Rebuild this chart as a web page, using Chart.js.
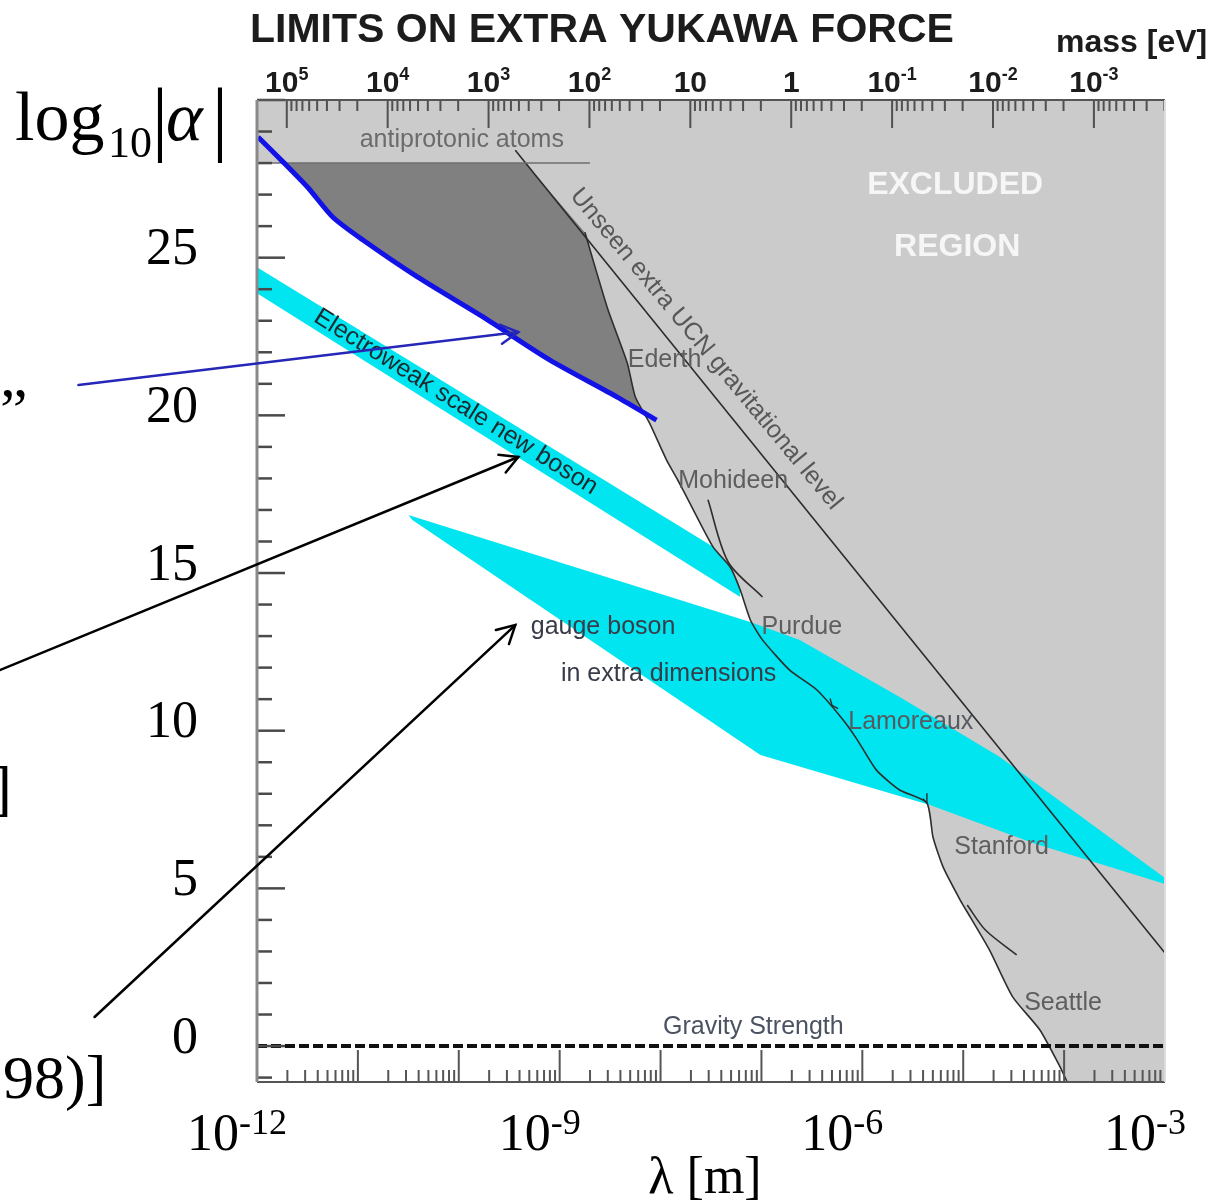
<!DOCTYPE html>
<html>
<head>
<meta charset="utf-8">
<script src="https://cdn.jsdelivr.net/npm/chart.js@4.4.1/dist/chart.umd.min.js"></script>
<style>
  html, body { margin: 0; padding: 0; background: #ffffff; }
  canvas { display: block; }
</style>
</head>
<body>
<canvas id="chart" width="1223" height="1202"></canvas>
<script>
// Axes: x = log10(lambda / m), y = log10|alpha|
const HBARC_EV_M = 1.97327e-7;               // hbar*c in eV*m, links mass to range
const lambdaLabelExponents = [-12, -9, -6, -3];
const massLabelExponents = [5, 4, 3, 2, 1, 0, -1, -2, -3];
const alphaTickLabels = [0, 5, 10, 15, 20, 25];

// Lower-left edge of the excluded region (filled up to the top of the plot)
const excludedEdge = [
  [-12, 28.0], [-9.34, 28.0], [-8.75, 25.81], [-8.67, 24.93], [-8.52, 23.34],
  [-8.33, 21.66], [-8.25, 20.58], [-8.11, 19.76], [-7.94, 18.58], [-7.83, 17.95],
  [-7.71, 17.22], [-7.48, 15.83], [-7.31, 15.19], [-7.21, 14.46], [-7.11, 13.51],
  [-6.99, 12.88], [-6.72, 11.92], [-6.45, 11.29], [-6.19, 10.34], [-6.05, 9.71],
  [-5.86, 8.75], [-5.63, 8.12], [-5.36, 7.71], [-5.30, 6.63], [-5.20, 5.68],
  [-5.03, 4.63], [-4.93, 4.09], [-4.74, 3.05], [-4.51, 1.56], [-4.24, 0.51],
  [-4.04, -0.66], [-3.97, -1.14], [-3, -1.14]
];

// Experimental limit curve (Ederth, Mohideen, Purdue, Lamoreaux, Stanford, Seattle)
const limitCurve = [
  [-8.75, 25.81], [-8.67, 24.93], [-8.52, 23.34], [-8.33, 21.66], [-8.25, 20.58],
  [-8.11, 19.76], [-7.94, 18.58], [-7.83, 17.95], [-7.71, 17.22], [-7.48, 15.83],
  [-7.31, 15.19], [-7.21, 14.46], [-7.11, 13.51], [-6.99, 12.88], [-6.72, 11.92],
  [-6.45, 11.29], [-6.19, 10.34], [-6.05, 9.71], [-5.86, 8.75], [-5.63, 8.12],
  [-5.36, 7.71], [-5.30, 6.63], [-5.20, 5.68], [-5.03, 4.63], [-4.93, 4.09],
  [-4.74, 3.05], [-4.51, 1.56], [-4.24, 0.51], [-4.04, -0.66], [-3.97, -1.14]
];
const mohideenBranch = [[-7.53, 17.32], [-7.33, 15.35], [-6.99, 14.24]];
const seattleBranch = [[-4.96, 4.47], [-4.78, 3.68], [-4.47, 2.89]];
const lamoreauxMark = [[-6.32, 11.02], [-6.30, 10.80], [-6.24, 10.70]];
const stanfordMark = [[-5.36, 8.02], [-5.36, 7.71], [-5.40, 7.84]];

// Upper edge of the dark-grey wedge (antiprotonic atoms / UCN / Ederth)
const wedgeTop = [
  [-11.73, 28.0], [-9.34, 28.0], [-8.75, 25.81], [-8.67, 24.93], [-8.52, 23.34],
  [-8.33, 21.66], [-8.25, 20.58], [-8.19, 20.14]
];

// Blue bound
const blueBound = [
  [-11.99, 28.83], [-11.74, 28.03], [-11.50, 27.24], [-11.25, 26.29], [-10.95, 25.56],
  [-10.41, 24.39], [-9.76, 23.12], [-9.10, 21.76], [-8.43, 20.58], [-8.04, 19.85]
];

// Electroweak scale new boson band
const electroweakUpper = [[-12, 24.70], [-7.48, 15.83], [-7.31, 15.19], [-7.21, 14.46]];
const electroweakLower = [[-12, 23.87], [-7.21, 14.24]];

// Gauge boson in extra dimensions band
const gaugeUpper = [[-10.50, 16.84], [-7.11, 13.45], [-6.62, 12.88], [-5.63, 11.07], [-4.64, 9.17], [-3, 5.33]];
const gaugeLower = [[-10.50, 16.84], [-10.46, 16.68], [-7.01, 9.23], [-5.33, 7.64], [-4.31, 6.44], [-3, 5.14]];

const antiprotonicLine = [[-12, 28.0], [-8.70, 28.0]];
const ucnLine = [[-9.44, 28.41], [-3, 2.95]];
const gravityLine = [[-12, 0], [-3, 0]];

const toPts = arr => arr.map(([x, y]) => ({ x, y }));
const CLEAR = 'rgba(0,0,0,0)';
const CYAN = '#00e5ef';
const CURVE = '#2e2e2e';

const datasets = [
  { label: 'excluded', data: toPts(excludedEdge), fill: 'end', backgroundColor: '#cbcbcb',
    borderColor: CLEAR, borderWidth: 0, order: 10 },
  { label: 'wedge', data: toPts(wedgeTop), fill: 2, backgroundColor: '#808080',
    borderColor: CLEAR, borderWidth: 0, order: 9 },
  { label: 'blue bound', data: toPts(blueBound), fill: false, borderColor: '#1212e6',
    borderWidth: 5, tension: 0.25, order: 2 },
  { label: 'electroweak', data: toPts(electroweakUpper), fill: 4, backgroundColor: CYAN,
    borderColor: CLEAR, borderWidth: 0, order: 8 },
  { label: 'electroweak lower', data: toPts(electroweakLower), fill: false,
    borderColor: CLEAR, borderWidth: 0, order: 8 },
  { label: 'gauge', data: toPts(gaugeUpper), fill: 6, backgroundColor: CYAN,
    borderColor: CLEAR, borderWidth: 0, order: 7 },
  { label: 'gauge lower', data: toPts(gaugeLower), fill: false,
    borderColor: CLEAR, borderWidth: 0, order: 7 },
  { label: 'antiprotonic', data: toPts(antiprotonicLine), fill: false, borderColor: '#6e6e6e',
    borderWidth: 1.6, order: 5 },
  { label: 'UCN', data: toPts(ucnLine), fill: false, borderColor: '#2b2b2b',
    borderWidth: 1.6, order: 5 },
  { label: 'limits', data: toPts(limitCurve), fill: false, borderColor: CURVE,
    borderWidth: 1.6, tension: 0.2, order: 5 },
  { label: 'Mohideen', data: toPts(mohideenBranch), fill: false, borderColor: CURVE,
    borderWidth: 1.6, tension: 0.3, order: 5 },
  { label: 'Seattle', data: toPts(seattleBranch), fill: false, borderColor: CURVE,
    borderWidth: 1.6, tension: 0.3, order: 5 },
  { label: 'Lamoreaux mark', data: toPts(lamoreauxMark), fill: false, borderColor: CURVE,
    borderWidth: 1.4, order: 5 },
  { label: 'Stanford mark', data: toPts(stanfordMark), fill: false, borderColor: CURVE,
    borderWidth: 1.4, order: 5 },
  { label: 'gravity', data: toPts(gravityLine), fill: false, borderColor: '#111111',
    borderWidth: 4, borderDash: [10, 4], order: 4 }
];
datasets.forEach(d => { d.pointRadius = 0; d.showLine = true; if (d.tension === undefined) d.tension = 0; });

// Labels written inside the plot, placed in data coordinates
const plotLabels = [
  { text: 'antiprotonic atoms', x: -9.97, y: 28.73, color: '#6b6b6b' },
  { text: 'Ederth', x: -7.96, y: 21.76, color: '#5e5e5e' },
  { text: 'Mohideen', x: -7.28, y: 17.92, color: '#5e5e5e' },
  { text: 'Purdue', x: -6.60, y: 13.29, color: '#5e5e5e' },
  { text: 'Lamoreaux', x: -5.52, y: 10.28, color: '#555b60' },
  { text: 'Stanford', x: -4.62, y: 6.31, color: '#5e5e5e' },
  { text: 'Seattle', x: -4.01, y: 1.37, color: '#5e5e5e' },
  { text: 'Gravity Strength', x: -7.08, y: 0.60, color: '#4b5362' },
  { text: 'gauge boson', x: -8.57, y: 13.29, color: '#383c48' },
  { text: 'in extra dimensions', x: -7.92, y: 11.80, color: '#383c48' },
  { text: 'Electroweak scale new boson', x: -10.03, y: 20.42, angle: 32, color: '#1e2a30' },
  { text: 'Unseen extra UCN gravitational level', x: -7.55, y: 22.10, angle: 50.2, color: '#585858' },
  { text: 'EXCLUDED', x: -5.08, y: 27.30, color: '#f6f6f6', bold: true },
  { text: 'REGION', x: -5.06, y: 25.34, color: '#f6f6f6', bold: true }
];

// Pointer arrows, tail -> head, in data coordinates
const arrows = [
  { from: [-13.77, 20.96], to: [-9.41, 22.64], color: '#2626b8' },
  { from: [-14.55, 11.92], to: [-9.41, 18.68], color: '#000000' },
  { from: [-13.61, 0.92], to: [-9.44, 13.35], color: '#000000' }
];

const SANS = '"Liberation Sans", Arial, sans-serif';
const SERIF = '"Liberation Serif", "Times New Roman", serif';

function drawPow(ctx, base, exp, cx, baseline, baseFont, expFont, rise) {
  ctx.font = baseFont;
  const wb = ctx.measureText(base).width;
  let we = 0;
  if (exp) { ctx.font = expFont; we = ctx.measureText(exp).width; }
  const x0 = cx - (wb + we) / 2;
  ctx.textAlign = 'left';
  ctx.textBaseline = 'alphabetic';
  ctx.font = baseFont;
  ctx.fillText(base, x0, baseline);
  if (exp) { ctx.font = expFont; ctx.fillText(exp, x0 + wb, baseline - rise); }
}

function seg(ctx, x1, y1, x2, y2) {
  ctx.beginPath(); ctx.moveTo(x1, y1); ctx.lineTo(x2, y2); ctx.stroke();
}

const frameAndText = {
  id: 'frameAndText',
  afterDatasetsDraw(chart) {
    const ctx = chart.ctx, a = chart.chartArea;
    const xs = chart.scales.x, ys = chart.scales.y;
    ctx.save();
    ctx.lineCap = 'butt';

    // left axis ticks, every unit, long every 5
    ctx.strokeStyle = '#4a4a4a'; ctx.lineWidth = 2.5;
    for (let v = Math.ceil(ys.min); v <= Math.floor(ys.max); v++) {
      const y = ys.getPixelForValue(v);
      seg(ctx, a.left, y, a.left + (v % 5 === 0 ? 28 : 15), y);
    }

    // bottom axis: decades of lambda with 2..9 subdivisions
    ctx.strokeStyle = '#555555'; ctx.lineWidth = 2;
    for (let k = Math.floor(xs.min); k <= Math.ceil(xs.max); k++) {
      for (let j = 1; j <= 9; j++) {
        const v = k + Math.log10(j);
        if (v < xs.min - 1e-9 || v > xs.max + 1e-9) continue;
        const x = xs.getPixelForValue(v);
        seg(ctx, x, a.bottom, x, a.bottom - (j === 1 ? 32 : 12));
      }
    }

    // top axis: mass in eV
    ctx.strokeStyle = '#505050'; ctx.lineWidth = 2;
    for (let k = -5; k <= 6; k++) {
      for (let j = 1; j <= 9; j++) {
        const v = Math.log10(HBARC_EV_M / (j * Math.pow(10, k)));
        if (v < xs.min || v > xs.max) continue;
        const x = xs.getPixelForValue(v);
        seg(ctx, x, a.top, x, a.top + (j === 1 ? 28 : 11));
      }
    }

    // plot frame
    ctx.strokeStyle = '#555555'; ctx.lineWidth = 2;
    seg(ctx, a.left, a.top, a.right, a.top);
    seg(ctx, a.left, a.bottom, a.right, a.bottom);
    ctx.strokeStyle = '#dddddd'; ctx.lineWidth = 2;
    seg(ctx, a.right, a.top, a.right, a.bottom);
    ctx.strokeStyle = '#8a8a8a'; ctx.lineWidth = 3;
    seg(ctx, a.left, a.top, a.left, a.bottom);

    // labels inside the plot
    for (const L of plotLabels) {
      const px = xs.getPixelForValue(L.x), py = ys.getPixelForValue(L.y);
      ctx.save();
      ctx.translate(px, py);
      if (L.angle) ctx.rotate(L.angle * Math.PI / 180);
      ctx.font = (L.bold ? 'bold 32px ' : '25px ') + SANS;
      ctx.fillStyle = L.color;
      ctx.textAlign = 'center';
      ctx.textBaseline = 'middle';
      ctx.fillText(L.text, 0, 0);
      ctx.restore();
    }
    ctx.restore();
  },
  afterDraw(chart) {
    const ctx = chart.ctx, a = chart.chartArea;
    const xs = chart.scales.x, ys = chart.scales.y;
    ctx.save();

    // title and mass axis
    ctx.fillStyle = '#1c1c1c';
    ctx.font = 'bold 41px ' + SANS;
    ctx.textAlign = 'left'; ctx.textBaseline = 'alphabetic';
    ctx.fillText('LIMITS ON EXTRA YUKAWA FORCE', 250, 42);
    ctx.font = 'bold 32px ' + SANS;
    ctx.fillText('mass [eV]', 1056, 52);
    for (const k of massLabelExponents) {
      const x = xs.getPixelForValue(Math.log10(HBARC_EV_M / Math.pow(10, k)));
      const base = k === 0 ? '1' : '10';
      const exp = (k === 0 || k === 1) ? '' : String(k);
      drawPow(ctx, base, exp, x, 92, 'bold 30px ' + SANS, 'bold 18px ' + SANS, 12);
    }

    // lambda axis labels
    ctx.fillStyle = '#000000';
    for (const e of lambdaLabelExponents) {
      const x = xs.getPixelForValue(e) - 20;
      drawPow(ctx, '10', String(e), x, 1150, '52px ' + SERIF, '36px ' + SERIF, 16);
    }
    ctx.font = '52px ' + SERIF;
    ctx.textAlign = 'center';
    ctx.fillText('\u03bb [m]', 705, 1193);

    // y-axis quantity
    ctx.textAlign = 'left';
    ctx.font = '70px ' + SERIF;
    ctx.fillText('log', 15, 140);
    ctx.font = '44px ' + SERIF;
    ctx.fillText('10', 108, 157);
    ctx.font = 'italic 70px ' + SERIF;
    ctx.fillText('\u03b1', 166, 140);
    ctx.font = '82px ' + SERIF;
    ctx.textAlign = 'center';
    ctx.fillText('|', 160, 145);
    ctx.fillText('|', 220, 145);

    // fragments of the surrounding slide text
    ctx.font = '62px ' + SERIF;
    ctx.textAlign = 'left';
    ctx.fillText('\u201d', 0, 430);
    ctx.textAlign = 'right';
    ctx.fillText(']', 12, 809);
    ctx.textAlign = 'left';
    ctx.fillText('98)]', 3, 1098);

    // arrows
    for (const A of arrows) {
      const x1 = xs.getPixelForValue(A.from[0]), y1 = ys.getPixelForValue(A.from[1]);
      const x2 = xs.getPixelForValue(A.to[0]), y2 = ys.getPixelForValue(A.to[1]);
      ctx.strokeStyle = A.color; ctx.lineWidth = 2.5; ctx.lineCap = 'round';
      seg(ctx, x1, y1, x2, y2);
      const ang = Math.atan2(y2 - y1, x2 - x1), h = 20, spread = 0.5;
      ctx.beginPath();
      ctx.moveTo(x2 - h * Math.cos(ang - spread), y2 - h * Math.sin(ang - spread));
      ctx.lineTo(x2, y2);
      ctx.lineTo(x2 - h * Math.cos(ang + spread), y2 - h * Math.sin(ang + spread));
      ctx.stroke();
    }
    ctx.restore();
  }
};

new Chart(document.getElementById('chart'), {
  type: 'line',
  data: { datasets },
  options: {
    responsive: false,
    animation: false,
    devicePixelRatio: 1,
    events: [],
    layout: { padding: { left: 0, top: 100, right: 58, bottom: 120 } },
    plugins: { legend: { display: false }, tooltip: { enabled: false } },
    scales: {
      x: { type: 'linear', min: -12, max: -3, display: false },
      y: {
        type: 'linear', min: -1.14, max: 30, position: 'left',
        afterFit(scale) { scale.width = 257; },
        afterBuildTicks(scale) { scale.ticks = alphaTickLabels.map(v => ({ value: v })); },
        grid: { display: false, drawTicks: false },
        border: { display: false },
        ticks: { font: { family: '"Liberation Serif", "Times New Roman", serif', size: 52 },
                 color: '#000000', padding: 59, labelOffset: -7 }
      }
    }
  },
  plugins: [frameAndText]
});
</script>
</body>
</html>
